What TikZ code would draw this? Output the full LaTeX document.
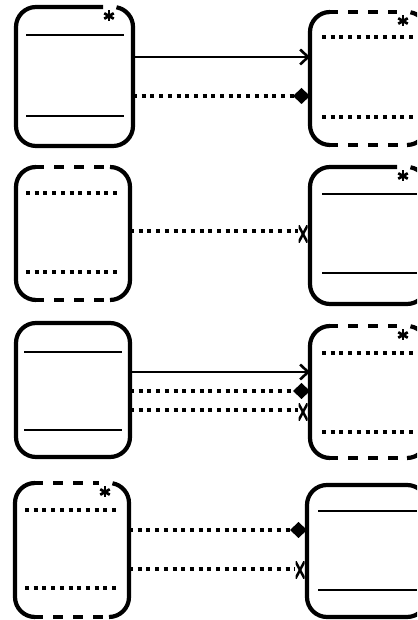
\documentclass[tikz,border=0pt]{standalone}
\usetikzlibrary{arrows.meta}
\tikzset{
  boxline/.style={line width=4.2pt},
  edgedash/.style={line width=4.6pt, dash pattern=on 10pt off 10pt},
  innersolid/.style={line width=2.8pt},
  innerdot/.style={line width=3.2pt, dash pattern=on 4pt off 4.7pt},
  conn/.style={line width=2.6pt},
  conndot/.style={line width=3.2pt, dash pattern=on 4pt off 4.7pt},
  area/.style={inner sep=0pt, outer sep=0pt},
  asterisk/.style={inner sep=0pt, minimum size=11pt, path picture={
    \foreach \ang in {90,30,150}
      \draw[line width=2.7pt] ([shift={(\ang:5.5pt)}]path picture bounding box.center) -- ([shift={(\ang+180:5.5pt)}]path picture bounding box.center);}},
  xmark/.style={inner sep=0pt, minimum width=9pt, minimum height=17pt, path picture={
    \draw[line width=2.5pt] (path picture bounding box.north west) -- (path picture bounding box.south east)
      (path picture bounding box.north east) -- (path picture bounding box.south west);}},
  openhead/.style={-{Straight Barb[length=8pt,width=15pt]}},
  diamondhead/.style={-{Diamond[length=17pt,width=16pt]}},
}
% #1 name, #2 a (left), #3 b (right), #4 T (top), #5 B (bottom)
\newcommand\myboxarea[5]{\node[area, minimum width={#3-#2}, minimum height={#4-#5}] (#1) at ({(#2+#3)/2},{(#4+#5)/2}) {};}
\newcommand\mysolidbox[5]{\myboxarea{#1}{#2}{#3}{#4}{#5}%
  \draw[boxline, rounded corners=20pt] (#2,#5) rectangle (#3,#4);}
\newcommand\mystarsolid[5]{\myboxarea{#1}{#2}{#3}{#4}{#5}%
  \draw[boxline] ({#3-30},#4) -- ({#2+20},#4) arc[start angle=90,end angle=180,radius=20pt]
    -- (#2,{#5+20}) arc[start angle=180,end angle=270,radius=20pt]
    -- ({#3-20},#5) arc[start angle=270,end angle=360,radius=20pt]
    -- (#3,{#4-20}) arc[start angle=0,end angle=80,radius=20pt];
  \node[asterisk] (#1s) at ({#3-24},{#4-9}) {};}
\newcommand\mydashedbox[5]{\myboxarea{#1}{#2}{#3}{#4}{#5}%
  \draw[boxline] ({#2+20},#4) arc[start angle=90,end angle=180,radius=20pt]
    -- (#2,{#5+20}) arc[start angle=180,end angle=270,radius=20pt];
  \draw[boxline] ({#3-20},#5) arc[start angle=270,end angle=360,radius=20pt]
    -- (#3,{#4-20}) arc[start angle=0,end angle=90,radius=20pt];
  \draw[edgedash] ({#2+18},#4) -- ({#3-18},#4);
  \draw[edgedash] ({#2+18},#5) -- ({#3-18},#5);}
\newcommand\mystardashed[5]{\myboxarea{#1}{#2}{#3}{#4}{#5}%
  \draw[boxline] ({#2+20},#4) arc[start angle=90,end angle=180,radius=20pt]
    -- (#2,{#5+20}) arc[start angle=180,end angle=270,radius=20pt];
  \draw[boxline] ({#3-20},#5) arc[start angle=270,end angle=360,radius=20pt]
    -- (#3,{#4-20}) arc[start angle=0,end angle=80,radius=20pt];
  \draw[edgedash] ({#2+18},#4) -- ({#3-30},#4);
  \draw[edgedash] ({#2+18},#5) -- ({#3-18},#5);
  \node[asterisk] (#1s) at ({#3-24},{#4-9}) {};}
\begin{document}
\begin{tikzpicture}[x=1pt,y=1pt]
\useasboundingbox (0,0) rectangle (417,620);
\clip (0,0) rectangle (417,620);
% ---------- row 1
\mystarsolid{L1}{16}{133}{613}{474}
\draw[innersolid] (26,585) -- (124,585);
\draw[innersolid] (26,504) -- (124,504);
\mystardashed{R1}{310}{427}{608}{475}
\draw[innerdot] (322,583) -- (417,583);
\draw[innerdot] (322,503) -- (417,503);
\draw[conn, openhead] (L1.east |- 0,563) -- (R1.west |- 0,563);
\draw[conndot, diamondhead] (L1.east |- 0,524) -- (R1.west |- 0,524);
% ---------- row 2
\mydashedbox{L2}{16}{130}{453}{320}
\draw[innerdot] (26,427) -- (121,427);
\draw[innerdot] (26,348) -- (121,348);
\mystarsolid{R2}{310}{427}{453}{316}
\draw[innersolid] (322,426) -- (417,426);
\draw[innersolid] (322,347) -- (417,347);
\node[xmark] (X2) at (303,386) {};
\draw[conndot] (L2.east |- 0,389) -- (X2.west |- 0,389);
% ---------- row 3
\mysolidbox{L3}{16}{130}{297}{163}
\draw[innersolid] (24,268) -- (122,268);
\draw[innersolid] (24,190) -- (122,190);
\mystardashed{R3}{310}{427}{294}{162}
\draw[innerdot] (322,267) -- (417,267);
\draw[innerdot] (322,188) -- (417,188);
\node[xmark] (X3) at (303,208) {};
\draw[conn, openhead] (L3.east |- 0,248) -- (R3.west |- 0,248);
\draw[conndot, diamondhead] (L3.east |- 0,229) -- (R3.west |- 0,229);
\draw[conndot] (L3.east |- 0,210) -- (X3.west |- 0,210);
% ---------- row 4
\mystardashed{L4}{15}{129}{137}{3}
\draw[innerdot] (25,110) -- (120,110);
\draw[innerdot] (25,32) -- (120,32);
\mysolidbox{R4}{307}{427}{135}{3}
\draw[innersolid] (318,109) -- (417,109);
\draw[innersolid] (318,30) -- (417,30);
\node[xmark] (X4) at (300,50) {};
\draw[conndot, diamondhead] (L4.east |- 0,90) -- (R4.west |- 0,90);
\draw[conndot] (L4.east |- 0,51) -- (X4.west |- 0,51);
\end{tikzpicture}
\end{document}
